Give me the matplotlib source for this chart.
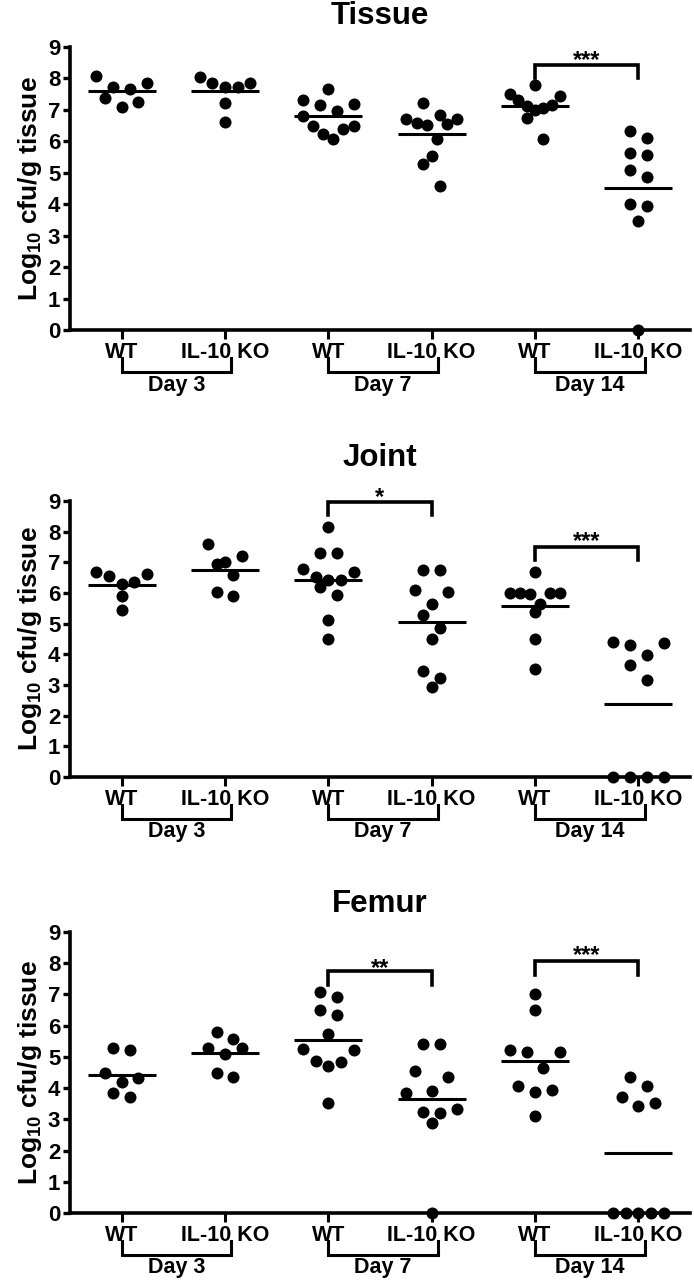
import matplotlib
matplotlib.use("Agg")
import matplotlib.pyplot as plt
import numpy as np
from matplotlib import transforms

plt.rcParams["font.family"] = ["Liberation Sans", "DejaVu Sans"]
plt.rcParams["font.weight"] = "bold"
plt.rcParams["mathtext.fontset"] = "custom"
plt.rcParams["mathtext.bf"] = "Liberation Sans:bold"
plt.rcParams["mathtext.rm"] = "Liberation Sans:bold"

# ---- data (log10 cfu/g tissue) ----
GROUP_LABELS = ["WT", "IL-10 KO", "WT", "IL-10 KO", "WT", "IL-10 KO"]
DAY_LABELS = ["Day 3", "Day 7", "Day 14"]

tissue_d3_wt = [8.09, 7.74, 7.39, 7.10, 7.68, 7.26, 7.85]
tissue_d3_ko = [8.06, 7.74, 7.87, 7.21, 6.62, 7.74, 7.87]
tissue_d7_wt = [7.18, 6.97, 7.66, 7.15, 7.32, 6.81, 6.49, 6.38, 6.09, 6.22, 6.49]
tissue_d7_ko = [7.23, 6.84, 6.55, 6.70, 6.59, 6.52, 6.70, 6.07, 5.53, 5.28, 4.58]
tissue_d14_wt = [7.80, 7.31, 7.43, 7.49, 7.12, 6.99, 7.15, 7.06, 6.74, 6.07]
tissue_d14_ko = [6.34, 6.12, 5.62, 5.57, 5.09, 4.86, 3.94, 4.00, 3.48, 0.0]

joint_d3_wt = [6.62, 6.35, 5.45, 6.29, 5.91, 6.56, 6.70]
joint_d3_ko = [6.96, 7.21, 6.60, 7.59, 7.01, 5.90, 6.04]
joint_d7_wt = [8.15, 7.30, 7.30, 6.79, 6.41, 6.52, 6.68, 6.41, 6.20, 5.92, 5.11, 4.49]
joint_d7_ko = [6.74, 6.74, 6.11, 6.03, 5.63, 5.29, 4.86, 4.49, 3.46, 3.24, 2.93]
joint_d14_wt = [6.68, 6.01, 5.98, 6.01, 6.01, 6.01, 5.65, 5.38, 4.51, 3.53]
joint_d14_ko = [4.38, 4.29, 4.40, 3.97, 3.64, 3.15, 0.0, 0.0, 0.0, 0.0]

femur_d3_wt = [5.22, 5.30, 4.48, 4.21, 4.31, 3.70, 3.83]
femur_d3_ko = [5.58, 5.79, 5.30, 5.30, 5.10, 4.37, 4.48]
femur_d7_wt = [6.91, 7.08, 6.51, 6.33, 5.74, 5.21, 5.25, 4.85, 4.87, 4.71, 3.53]
femur_d7_ko = [5.42, 5.42, 4.55, 4.35, 3.83, 3.91, 3.32, 3.19, 3.24, 2.89, 0.0]
femur_d14_wt = [7.02, 6.51, 5.15, 5.22, 5.15, 4.64, 3.94, 3.89, 4.07, 3.11]
femur_d14_ko = [4.08, 4.37, 3.51, 3.42, 3.70, 0.0, 0.0, 0.0, 0.0, 0.0]

# significance: (group a, group b, label, bracket top, leg bottom, star centre)
tissue_sig = [(5, 6, "***", 8.42, 8.03, 8.80)]
joint_sig = [(3, 4, "*", 8.98, 8.55, 9.35), (5, 6, "***", 7.50, 7.07, 7.93)]
femur_sig = [(3, 4, "**", 7.76, 7.31, 8.06), (5, 6, "***", 8.06, 7.63, 8.49)]

W, H = 694, 1281
AX_LEFT, AX_RIGHT = 70, 690
DOT_PX = 12.0
COL_PX = 8.4      # horizontal slot width of the scatter columns
ROW_PX = 23.6     # height of one row of dots


def dot_x(ax, xc, values):
    """Prism-style column scatter: dots binned into rows, each row spread symmetrically."""
    tr = ax.transData
    ypx = tr.transform([(xc, v) for v in values])[:, 1]
    y0 = tr.transform([(xc, 0)])[0, 1]
    px_per_x = tr.transform([(1, 0)])[0, 0] - tr.transform([(0, 0)])[0, 0]
    rows = np.floor((ypx - y0 - 2) / ROW_PX)
    offs = np.zeros(len(values))
    for r in np.unique(rows):
        idx = [i for i in np.argsort(-ypx, kind="stable") if rows[i] == r]
        n = len(idx)
        if n == 1:
            continue
        sp = min(2 * COL_PX, 6 * COL_PX / (n - 1))
        slots = (np.arange(n) - (n - 1) / 2) * sp
        order, lo, hi = [], 0, n - 1
        while lo <= hi:
            order.append(lo)
            if lo != hi:
                order.append(hi)
            lo, hi = lo + 1, hi - 1
        for j, i in enumerate(idx):
            offs[i] = slots[order[j]]
    return xc + offs / px_per_x


def draw_panel(fig, title, groups, sigs, top_px, bottom_px, title_px):
    ax = fig.add_axes([AX_LEFT / W, 1 - bottom_px / H, (AX_RIGHT - AX_LEFT) / W,
                       (bottom_px - top_px) / H])
    ax.set_xlim(0.5, 6.5)
    ax.set_ylim(0, 9)
    ax_h = bottom_px - top_px

    for s in ["top", "right"]:
        ax.spines[s].set_visible(False)
    for s in ["left", "bottom"]:
        ax.spines[s].set_linewidth(2.6)
        ax.spines[s].set_capstyle("projecting")

    ax.set_yticks(range(10))
    ax.set_yticklabels([str(i) for i in range(10)], fontsize=16, fontweight="bold")
    ax.tick_params(axis="y", length=5, width=2.4, pad=2)
    ax.set_xticks(range(1, 7))
    ax.set_xticklabels(GROUP_LABELS, fontsize=15.5, fontweight="bold")
    ax.tick_params(axis="x", length=6.5, width=2.2, pad=2)

    for i, vals in enumerate(groups):
        xc = i + 1
        xs = dot_x(ax, xc, vals)
        ax.scatter(xs, vals, s=DOT_PX ** 2 * 0.52, color="black", linewidths=0,
                   zorder=5, clip_on=False)
        m = np.mean(vals)
        ax.plot([xc - 0.33, xc + 0.33], [m, m], color="black", lw=2.2,
                solid_capstyle="butt", zorder=4)

    # day brackets below the group labels
    blend = transforms.blended_transform_factory(ax.transData, ax.transAxes)
    leg_top, leg_bot, day_y = -28 / ax_h, -42 / ax_h, -55 / ax_h
    for d, label in enumerate(DAY_LABELS):
        xa, xb = 2 * d + 1, 2 * d + 2.06
        ax.plot([xa, xa, xb, xb], [leg_top, leg_bot, leg_bot, leg_top], color="black",
                lw=2.2, transform=blend, clip_on=False, solid_joinstyle="miter")
        ax.text((xa + xb) / 2, day_y, label, transform=blend, ha="center", va="center",
                fontsize=15.5, fontweight="bold")

    for a, b, label, ytop, yleg, ystar in sigs:
        ax.plot([a, a, b, b], [yleg, ytop, ytop, yleg], color="black", lw=2.6,
                clip_on=False, solid_joinstyle="miter")
        ax.annotate(label, ((a + b) / 2, ystar), xytext=(0, -10), textcoords="offset points",
                    ha="center", va="baseline", fontsize=17, fontweight="bold",
                    annotation_clip=False)

    ax.set_ylabel(r"Log$_{\mathbf{10}}$ cfu/g tissue", fontsize=19, fontweight="bold",
                  labelpad=3)
    fig.text((AX_LEFT + AX_RIGHT) / 2 / W, 1 - title_px / H, title, ha="center",
             va="center", fontsize=22.5, fontweight="bold")
    return ax


def main():
    fig = plt.figure(figsize=(W / 100, H / 100), dpi=100, facecolor="white")
    draw_panel(fig, "Tissue",
               [tissue_d3_wt, tissue_d3_ko, tissue_d7_wt, tissue_d7_ko, tissue_d14_wt, tissue_d14_ko],
               tissue_sig, 47, 330, 16)
    draw_panel(fig, "Joint",
               [joint_d3_wt, joint_d3_ko, joint_d7_wt, joint_d7_ko, joint_d14_wt, joint_d14_ko],
               joint_sig, 501, 777, 458)
    draw_panel(fig, "Femur",
               [femur_d3_wt, femur_d3_ko, femur_d7_wt, femur_d7_ko, femur_d14_wt, femur_d14_ko],
               femur_sig, 932, 1213, 904)
    fig.savefig("out.png", dpi=100, facecolor="white")


if __name__ == "__main__":
    main()
